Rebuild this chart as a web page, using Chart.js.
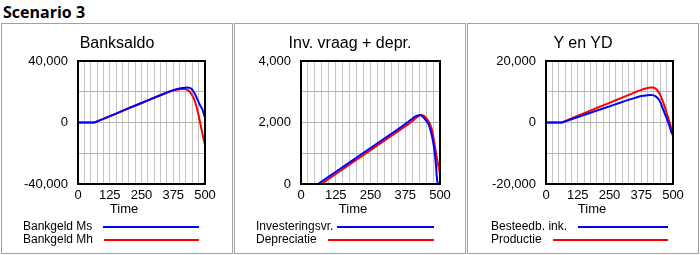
<!DOCTYPE html>
<html>
<head>
<meta charset="utf-8">
<script src="https://cdn.jsdelivr.net/npm/chart.js@4.4.1/dist/chart.umd.min.js"></script>
<style>
  body { margin: 0; width: 700px; height: 255px; background: #fff; position: relative; overflow: hidden;
         font-family: "Liberation Sans", Arial, sans-serif; color: #000; }
  #hdr { position: absolute; left: 3px; top: 2px; font: bold 16px "Open Sans", sans-serif; line-height: 20px; }
  .panel { position: absolute; top: 23px; width: 232px; height: 231px; box-sizing: border-box;
           border: 1px solid #a0a0a0; }
  .panel canvas { position: absolute; left: 0; top: 0; }
  .ttl { position: absolute; left: 0; width: 100%; top: 9px; line-height: 20px; font-size: 16px; text-align: center; }
  .time { position: absolute; top: 177px; width: 60px; line-height: 16px; font-size: 13px; text-align: center; }
  .leg { position: absolute; display: flex; align-items: center; height: 13px; font-size: 12px; line-height: 13px; white-space: nowrap; }
  .leg .ln { flex: 1; height: 2px; }
</style>
</head>
<body>
<div id="hdr">Scenario 3</div>
<div class="panel" style="left:1px"><canvas id="c1" width="230" height="194"></canvas></div>
<div class="panel" style="left:234px"><canvas id="c2" width="230" height="194"></canvas></div>
<div class="panel" style="left:467px"><canvas id="c3" width="230" height="194"></canvas></div>
<script>
// time axis shared by all series
const times = [0, 25, 50, 60, 65, 70, 100, 150, 200, 250, 300, 350, 375, 400, 410, 420, 430, 440, 450, 460, 470, 475, 480, 485, 490, 495, 500];

// Banksaldo
const bankMs = [0, 0, 0, 0, 0, 340, 2400, 5800, 9300, 12700, 16100, 19500, 21000, 22100, 22400, 22600, 22700, 22500, 21300, 18600, 15000, 13300, 11400, 10000, 8400, 5800, 3100];
const bankMh = [0, 0, 0, 0, 0, 340, 2400, 5800, 9300, 12700, 16100, 19500, 20900, 21700, 21800, 21800, 21300, 20000, 17500, 13800, 8000, 4500, 500, -3400, -7500, -11200, -14600];

// Inv. vraag + depr.
const invest = [0, 0, 0, 0, 25, 55, 240, 550, 860, 1170, 1480, 1790, 1950, 2120, 2190, 2230, 2235, 2170, 2060, 1920, 1600, 1380, 1100, 650, 100, 0, 0];
const deprec = [0, 0, 0, 0, 0, 0, 170, 480, 790, 1100, 1410, 1720, 1880, 2040, 2120, 2190, 2240, 2230, 2150, 2020, 1800, 1580, 1320, 1030, 780, 550, 330];

// Y en YD
const yd = [0, 0, 0, 0, 80, 220, 1060, 2460, 3860, 5260, 6660, 8000, 8600, 8900, 8950, 8900, 8600, 7900, 6650, 4500, 2400, 1400, 300, -900, -2200, -3400, -4200];
const yProd = [0, 0, 0, 0, 100, 270, 1300, 3000, 4700, 6400, 8100, 9800, 10600, 11200, 11400, 11400, 11100, 10300, 8900, 6900, 4500, 3100, 1800, 500, -900, -2400, -3900];

const titles = ['Banksaldo', 'Inv. vraag + depr.', 'Y en YD'];
const names1 = ['Bankgeld Ms', 'Bankgeld Mh'];
const names2 = ['Investeringsvr.', 'Depreciatie'];
const names3 = ['Besteedb. ink.', 'Productie'];

const xLabels = [0, 125, 250, 375, 500];
const yLabels1 = [-40000, 0, 40000];
const yLabels2 = [0, 2000, 4000];
const yLabels3 = [-20000, 0, 20000];

const BLUE = '#0000ff', RED = '#ff0000';

// black frame round the plot area
const frame = {
  id: 'frame',
  afterDraw(chart) {
    const a = chart.chartArea, ctx = chart.ctx;
    ctx.save();
    ctx.strokeStyle = '#000';
    ctx.lineWidth = 2;
    ctx.strokeRect(a.left, a.top, a.right - a.left, a.bottom - a.top);
    ctx.restore();
  }
};

function pts(vals) {
  return vals.map((v, i) => ({ x: times[i], y: v }));
}

function makeChart(id, series, names, yMin, yMax, yStep, yLabels, yWidth, padRight) {
  const tickFont = { family: '"Liberation Sans", Arial, sans-serif', size: 13 };
  return new Chart(document.getElementById(id), {
    type: 'line',
    data: {
      datasets: series.map((s, i) => ({
        label: names[i],
        data: pts(s),
        borderColor: i === 0 ? BLUE : RED,
        borderWidth: 2,
        pointRadius: 0,
        cubicInterpolationMode: 'monotone',
        fill: false
      }))
    },
    options: {
      responsive: false,
      animation: false,
      devicePixelRatio: 1,
      layout: { padding: { top: 37, right: padRight, left: 0, bottom: 0 } },
      plugins: { legend: { display: false }, tooltip: { enabled: false } },
      scales: {
        x: {
          type: 'linear', min: 0, max: 500,
          grid: { color: '#c4c4c4', drawTicks: false },
          border: { display: false },
          ticks: {
            stepSize: 25, autoSkip: false, maxRotation: 0, padding: 4,
            color: '#000', font: tickFont,
            callback: v => xLabels.includes(v) ? String(v) : ''
          },
          afterFit: s => { s.height = 34; }
        },
        y: {
          min: yMin, max: yMax,
          grid: { color: '#b4b4b4', drawTicks: false },
          border: { display: false },
          ticks: {
            stepSize: yStep, padding: 10, color: '#000', font: tickFont,
            callback: v => yLabels.includes(v) ? v.toLocaleString('en-US') : ''
          },
          afterFit: s => { s.width = yWidth; }
        }
      }
    },
    plugins: [frame]
  });
}

const charts = [
  makeChart('c1', [bankMs, bankMh], names1, -40000, 40000, 20000, yLabels1, 76, 27),
  makeChart('c2', [invest, deprec], names2, 0, 4000, 1000, yLabels2, 66, 25),
  makeChart('c3', [yd, yProd], names3, -20000, 20000, 10000, yLabels3, 78, 25)
];

// titles, "Time" label and legends as text
const legendPos = [
  { left: 21, right: 197, gaps: [11, 11] },
  { left: 21, right: 199, gaps: [4, 11] },
  { left: 23, right: 200, gaps: [11, 11] }
];
const allNames = [names1, names2, names3];
document.querySelectorAll('.panel').forEach((panel, p) => {
  const t = document.createElement('div');
  t.className = 'ttl';
  t.textContent = titles[p];
  panel.appendChild(t);

  const a = charts[p].chartArea;
  const tm = document.createElement('div');
  tm.className = 'time';
  tm.textContent = 'Time';
  tm.style.left = ((a.left + a.right) / 2 - 17.5 - 30) + 'px';
  panel.appendChild(tm);

  const lp = legendPos[p];
  allNames[p].forEach((n, i) => {
    const row = document.createElement('div');
    row.className = 'leg';
    row.style.left = lp.left + 'px';
    row.style.width = (lp.right - lp.left) + 'px';
    row.style.top = (196 + i * 13) + 'px';
    const sp = document.createElement('span');
    sp.textContent = n;
    const ln = document.createElement('div');
    ln.className = 'ln';
    ln.style.marginLeft = lp.gaps[i] + 'px';
    ln.style.background = i === 0 ? BLUE : RED;
    row.appendChild(sp);
    row.appendChild(ln);
    panel.appendChild(row);
  });
});
</script>
</body>
</html>
